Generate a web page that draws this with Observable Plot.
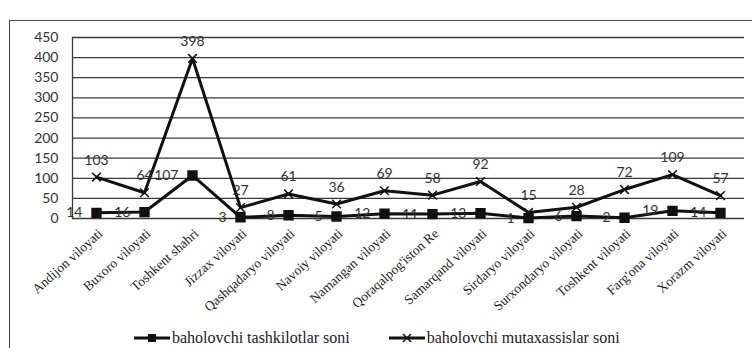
<!DOCTYPE html>
<html>
<head>
<meta charset="utf-8">
<script src="https://cdn.jsdelivr.net/npm/d3@7"></script>
<script src="https://cdn.jsdelivr.net/npm/@observablehq/plot@0.6"></script>
<style>
  html, body { margin: 0; padding: 0; background: #fff; }
  #wrap { position: relative; width: 752px; height: 348px; overflow: hidden; }
  #box { position: absolute; left: 9px; top: 20px; width: 760px; height: 340px;
         border-left: 1.5px solid #444; border-top: 1.5px solid #555; }
  #chart { position: absolute; left: 0; top: 0; }
  #legend { position: absolute; left: 133px; top: 328px; display: flex;
            font-family: "Liberation Serif", serif; font-size: 16px; line-height: 20px; color: #222; }
  .item { display: flex; align-items: center; }
  .item + .item { margin-left: 38px; }
  .item svg { margin-right: 1px; }
</style>
</head>
<body>
<div id="wrap">
  <div id="box"></div>
  <div id="chart"></div>
  <div id="legend"></div>
</div>
<script>
// Regions of Uzbekistan
const regions = [
  "Andijon viloyati", "Buxoro viloyati", "Toshkent shahri", "Jizzax viloyati",
  "Qashqadaryo viloyati", "Navoiy viloyati", "Namangan viloyati", "Qoraqalpog'iston Re",
  "Samarqand viloyati", "Sirdaryo viloyati", "Surxondaryo viloyati", "Toshkent viloyati",
  "Farg'ona viloyati", "Xorazm viloyati"
];
// Number of appraisal organisations
const tashkilotlar = [14, 16, 107, 3, 8, 5, 12, 11, 13, 1, 6, 2, 19, 14];
// Number of appraisal specialists
const mutaxassislar = [103, 64, 398, 27, 61, 36, 69, 58, 92, 15, 28, 72, 109, 57];
const yTicks = [0, 50, 100, 150, 200, 250, 300, 350, 400, 450];
const seriesNames = ["baholovchi tashkilotlar soni", "baholovchi mutaxassislar soni"];

const orgs = regions.map((r, i) => ({region: r, value: tashkilotlar[i]}));
const specs = regions.map((r, i) => ({region: r, value: mutaxassislar[i]}));

const H = 315;
const chart = Plot.plot({
  width: 752,
  height: H,
  marginLeft: 72,
  marginRight: 8,
  marginTop: 37,
  marginBottom: H - 218,
  x: {type: "band", domain: regions, padding: 0, label: null},
  y: {domain: [0, 450], label: null},
  style: {fontFamily: "Lato, sans-serif", fontSize: "14px", color: "#333", background: "transparent"},
  marks: [
    Plot.ruleY(yTicks, {stroke: "#3a3a3a", strokeWidth: 1.3}),
    Plot.frame({anchor: "left", stroke: "#3a3a3a", strokeWidth: 1.3}),
    Plot.axisY({ticks: yTicks, tickSize: 0, tickPadding: 14, fontSize: 14, fill: "#333", label: null}),
    Plot.axisX({tickSize: 0, tickPadding: 13, dx: 4, tickRotate: -42, fontSize: 13.5,
                fontFamily: "Liberation Serif, serif", fill: "#222", label: null}),
    Plot.line(specs, {x: "region", y: "value", stroke: "#111", strokeWidth: 3}),
    Plot.line(orgs, {x: "region", y: "value", stroke: "#111", strokeWidth: 3}),
    Plot.dot(specs, {x: "region", y: "value", symbol: "times", r: 4, stroke: "#111", strokeWidth: 1.5}),
    Plot.dot(orgs, {x: "region", y: "value", symbol: "square", r: 5, fill: "#111", stroke: "#111"}),
    Plot.text(specs, {x: "region", y: "value", text: "value", dy: -17, fontSize: 14, fill: "#333"}),
    Plot.text(orgs, {x: "region", y: "value", text: "value", dx: -14, textAnchor: "end", fontSize: 14, fill: "#333"})
  ]
});
document.getElementById("chart").appendChild(chart);

// Legend below the chart
const legend = d3.select("#legend");
seriesNames.forEach((name, i) => {
  const item = legend.append("div").attr("class", "item");
  const s = item.append("svg").attr("width", 38).attr("height", 14);
  s.append("line").attr("x1", 1).attr("x2", 37).attr("y1", 7).attr("y2", 7)
    .attr("stroke", "#111").attr("stroke-width", 3);
  if (i === 0) {
    s.append("rect").attr("x", 15).attr("y", 3).attr("width", 8).attr("height", 8).attr("fill", "#111");
  } else {
    s.append("path").attr("d", "M15,3L23,11M23,3L15,11").attr("stroke", "#111").attr("stroke-width", 1.5);
  }
  item.append("span").text(name);
});
</script>
</body>
</html>
